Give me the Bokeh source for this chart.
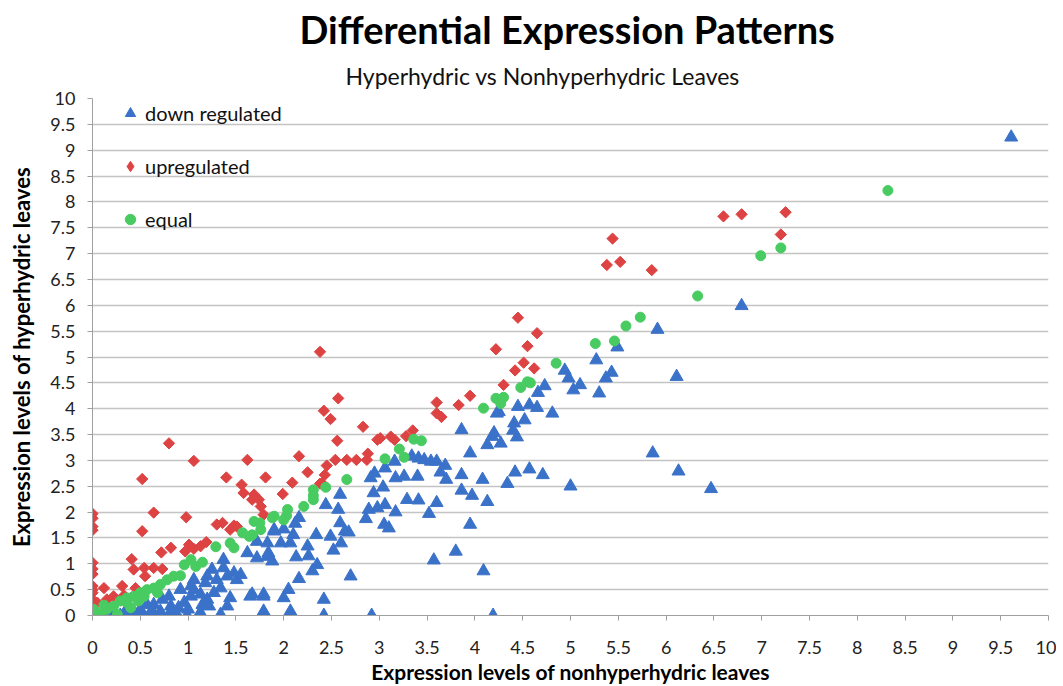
import math
from bokeh.plotting import figure
from bokeh.models import (ColumnDataSource, FixedTicker, NumeralTickFormatter,
                          Range1d, Title)
from bokeh.embed import file_html
from bokeh.resources import INLINE

# ---------------- data ----------------
down_x = [9.61, 6.79, 5.91, 5.49, 5.27, 4.94, 4.98, 5.10, 5.03, 5.37, 5.43, 5.30, 6.11,
          4.73, 4.66, 4.57, 4.65, 4.81, 4.45, 4.25, 4.52, 4.41, 4.40, 4.20, 4.44, 4.18,
          4.13, 4.27, 3.86, 3.95, 5.86, 6.13, 6.47, 3.86, 4.08, 4.42, 4.57, 4.71, 4.34,
          5.00, 3.86, 3.97, 4.13, 3.95, 4.09, 4.19, 4.23, 3.34, 3.41, 3.47, 3.54, 3.60,
          3.69, 3.16, 3.06, 2.95, 2.91, 3.17, 3.26, 3.40, 3.64, 3.70, 3.04, 2.94, 3.29,
          3.41, 3.60, 3.52, 3.06, 2.98, 2.89, 2.86, 3.17, 3.05, 3.10, 3.80, 3.57, 2.92,
          2.42, 2.42, 2.70, 2.59, 2.44, 2.57, 2.59, 2.64, 2.68, 2.49, 2.34, 2.60, 2.52,
          2.25, 2.16, 2.12, 1.90, 2.00, 2.10, 2.07, 1.97, 1.83, 1.72, 1.84, 1.72, 1.88,
          2.13, 2.35, 2.30, 2.16, 2.05, 2.00, 1.79, 1.67, 1.79, 2.07, 2.26,
          0.22, 0.29, 0.36, 0.43, 0.52, 0.61, 0.71, 0.82, 0.73, 0.64, 0.57, 0.80, 0.92,
          0.96, 0.89, 0.99, 1.11, 1.03, 1.06, 1.13, 1.15, 1.22, 1.27, 1.34, 1.30, 1.25,
          1.37, 1.37, 1.48, 1.55, 1.51, 1.41, 1.06, 1.03, 1.18, 1.20, 1.62, 1.83, 1.90,
          1.65, 1.79, 1.41, 1.44, 0.82, 0.71, 0.43, 1.20, 1.34, 1.13, 0.15, 0.35, 0.50,
          0.62, 0.90, 1.00]
down_y = [9.25, 5.99, 5.53, 5.19, 4.94, 4.74, 4.59, 4.46, 4.36, 4.59, 4.70, 4.30, 4.62,
          4.44, 4.31, 4.07, 4.02, 3.91, 4.04, 3.94, 3.78, 3.72, 3.58, 3.53, 3.45, 3.46,
          3.30, 3.33, 3.59, 3.14, 3.14, 2.79, 2.45, 2.72, 2.63, 2.77, 2.83, 2.72, 2.55,
          2.50, 2.42, 2.32, 2.20, 1.76, 0.86, 0.00, 3.91, 3.08, 3.04, 3.01, 2.98, 2.98,
          2.90, 2.98, 2.85, 2.75, 2.66, 2.66, 2.69, 2.69, 2.77, 2.63, 2.48, 2.37, 2.24,
          2.23, 2.18, 1.97, 2.14, 2.08, 2.05, 1.87, 2.00, 1.76, 1.69, 1.24, 1.07, 0.00,
          0.00, 0.31, 0.76, 2.34, 2.14, 2.05, 1.79, 1.63, 1.61, 1.53, 1.56, 1.40, 1.26,
          1.34, 1.89, 1.78, 1.66, 1.67, 1.56, 1.40, 1.40, 1.40, 1.43, 1.21, 1.11, 1.05,
          1.13, 0.98, 0.86, 0.71, 0.50, 0.34, 0.41, 0.41, 0.08, 0.08, 1.15,
          0.00, 0.00, 0.00, 0.04, 0.04, 0.00, 0.00, 0.18, 0.31, 0.21, 0.21, 0.37, 0.50,
          0.25, 0.00, 0.00, 0.00, 0.37, 0.50, 0.41, 0.21, 0.18, 0.44, 0.53, 0.69, 0.89,
          0.92, 1.08, 0.82, 0.79, 0.69, 0.76, 0.69, 0.57, 0.63, 0.76, 1.21, 1.14, 1.63,
          0.37, 0.37, 0.18, 0.34, 0.08, 0.08, 0.08, 0.31, 0.02, 0.05, 0.02, 0.10, 0.12,
          0.10, 0.15, 0.12]

up_x = [0.00, 0.00, 0.00, 0.00, 0.00, 0.00, 0.00, 0.00, 0.00, 0.00, 0.00, 0.00,
        0.64, 0.98, 0.52, 1.30, 1.36, 1.48, 1.51, 1.44, 1.58, 1.69, 1.67, 1.76, 1.79,
        0.72, 0.82, 1.01, 0.97, 1.06, 1.13, 1.19, 0.41, 0.43, 0.54, 0.64, 0.73, 0.55,
        0.45, 0.12, 0.31, 0.33, 0.22, 0.15, 0.05, 0.80, 1.06, 0.52, 1.40, 1.62, 1.56,
        1.81, 2.09, 2.25, 1.99, 1.74, 2.16, 2.38, 2.43, 2.45, 2.54, 2.66, 2.76, 2.87,
        2.88, 2.98, 3.01, 3.12, 3.16, 3.28, 3.35, 3.60, 3.60, 3.65, 3.83, 3.95, 2.57,
        2.42, 2.49, 2.83, 2.56, 2.38, 2.40, 4.45, 4.65, 4.22, 4.55, 4.51, 4.42, 4.62,
        4.30, 5.44, 5.38, 5.52, 5.85, 6.60, 6.79, 7.25, 7.20]
up_y = [1.97, 1.88, 1.72, 1.65, 1.02, 0.90, 0.80, 0.57, 0.50, 0.44, 0.31, 0.20,
        1.99, 1.90, 1.63, 1.76, 1.79, 1.74, 1.72, 1.66, 2.37, 2.34, 2.24, 2.11, 1.95,
        1.22, 1.31, 1.37, 1.24, 1.29, 1.34, 1.42, 1.09, 0.89, 0.92, 0.92, 0.90, 0.76,
        0.53, 0.53, 0.57, 0.39, 0.37, 0.31, 0.25, 3.33, 2.99, 2.64, 2.67, 3.01, 2.53,
        2.67, 2.57, 2.77, 2.35, 2.24, 3.08, 2.55, 2.72, 2.90, 3.01, 3.01, 3.01, 3.01,
        3.13, 3.40, 3.43, 3.46, 3.40, 3.47, 3.58, 4.12, 3.91, 3.84, 4.07, 4.25, 4.20,
        3.96, 3.80, 3.65, 3.38, 5.10, 2.56, 5.76, 5.46, 5.15, 5.21, 4.89, 4.74, 4.78,
        4.46, 7.29, 6.78, 6.84, 6.68, 7.72, 7.76, 7.80, 7.37]

equal_x = [8.32, 6.99, 7.20, 6.33, 5.73, 5.58, 5.46, 5.26, 4.85, 4.55, 4.48, 4.58, 4.22,
           4.30, 4.27, 4.09, 3.36, 3.44, 3.21, 3.26, 3.06, 2.66, 2.44, 2.31, 2.31, 2.31,
           2.21, 2.04, 2.03, 2.00, 1.90, 1.75, 1.76, 1.67, 1.88, 1.69, 1.57, 1.64, 1.44,
           1.48, 1.29, 1.15, 1.08, 1.03, 0.96, 0.92, 0.85, 0.78, 0.71, 0.64, 0.57, 0.50,
           0.43, 0.36, 0.29, 0.22, 0.15, 0.08, 0.01, 0.36, 0.26, 0.48, 0.40, 0.68, 0.54,
           0.05, 0.12]
equal_y = [8.22, 6.96, 7.11, 6.18, 5.77, 5.60, 5.31, 5.26, 4.88, 4.52, 4.41, 4.50, 4.20,
           4.22, 4.10, 4.01, 3.41, 3.38, 3.22, 3.06, 3.03, 2.63, 2.48, 2.43, 2.32, 2.24,
           2.11, 2.05, 1.93, 1.85, 1.92, 1.79, 1.66, 1.56, 1.89, 1.82, 1.60, 1.53, 1.40,
           1.31, 1.33, 1.03, 0.95, 1.08, 0.98, 0.77, 0.76, 0.69, 0.60, 0.53, 0.50, 0.44,
           0.37, 0.34, 0.28, 0.18, 0.12, 0.02, 0.12, 0.25, 0.02, 0.28, 0.15, 0.44, 0.37,
           0.05, 0.20]

series_names = ["down regulated", "upregulated", "equal"]
axis_ticks = [i * 0.5 for i in range(21)]
title_text = "Differential Expression Patterns"
subtitle_text = "Hyperhydric vs Nonhyperhydric Leaves"
x_label = "Expression levels of nonhyperhydric leaves"
y_label = "Expression levels of hyperhydric leaves"

BLUE, RED, GREEN = "#3B72C9", "#DE4343", "#48CC62"

# ---------------- figure ----------------
FONT = "Lato"
p = figure(width=1056, height=686, output_backend="svg", toolbar_location=None,
           x_range=Range1d(0, 10), y_range=Range1d(0, 10),
           min_border_left=92, min_border_right=8, min_border_bottom=70,
           min_border_top=98, title=None)
p.background_fill_color = "white"
p.border_fill_color = "white"
p.outline_line_color = None

sub = Title(text=subtitle_text, align="left", offset=253,
            text_font=FONT, text_font_size="23px", text_font_style="normal",
            text_color="#111111", standoff=17)
p.add_layout(sub, "above")
ttl = Title(text=title_text, align="left", offset=207,
            text_font=FONT, text_font_size="38px", text_font_style="bold",
            text_color="#000000", standoff=0)
p.add_layout(ttl, "above")

src_d = ColumnDataSource(dict(x=down_x, y=down_y))
src_u = ColumnDataSource(dict(x=up_x, y=up_y))
src_e = ColumnDataSource(dict(x=equal_x, y=equal_y))

p.scatter("x", "y", source=src_d, marker="triangle", size=13,
          fill_color=BLUE, line_color=BLUE, legend_label=series_names[0])
p.scatter("x", "y", source=src_u, marker="square", size=8, angle=math.pi / 4,
          fill_color=RED, line_color=RED)
# hidden twin of the red series, used only for its diamond legend glyph
red_key = p.scatter("x", "y", source=src_u, marker="diamond", size=13,
                    fill_color=RED, line_color=RED, legend_label=series_names[1])
red_key.visible = False
p.scatter("x", "y", source=src_e, marker="circle", size=10,
          fill_color=GREEN, line_color=GREEN, legend_label=series_names[2])

# axes
for ax in (p.xaxis[0], p.yaxis[0]):
    ax.ticker = FixedTicker(ticks=axis_ticks)
    ax.formatter = NumeralTickFormatter(format="0.[0]")
    ax.major_label_text_font = FONT
    ax.major_label_text_font_size = "18px"
    ax.major_label_text_color = "#222222"
    ax.axis_line_color = "#A0A0A0"
    ax.major_tick_line_color = "#A0A0A0"
    ax.major_tick_out = 5
    ax.major_tick_in = 0
    ax.minor_tick_line_color = None
    ax.axis_label_text_font = FONT
    ax.axis_label_text_font_style = "bold"
    ax.axis_label_text_color = "#000000"
p.xaxis.axis_label = x_label
p.yaxis.axis_label = y_label
p.xaxis.axis_label_text_font_size = "21px"
p.yaxis.axis_label_text_font_size = "22px"
p.xaxis.major_label_standoff = 20
p.yaxis.major_label_standoff = 12
p.xaxis.axis_label_standoff = 2
p.yaxis.axis_label_standoff = 12

p.xgrid.grid_line_color = None
p.ygrid.ticker = FixedTicker(ticks=axis_ticks)
p.ygrid.grid_line_color = "#C4C4C4"
p.ygrid.grid_line_width = 1.5

# legend
lg = p.legend[0]
lg.location = (25, 383)
lg.padding = 2
lg.margin = 0
lg.spacing = 27
lg.glyph_height = 26
lg.glyph_width = 26
lg.label_height = 20
lg.label_standoff = 2
lg.label_text_font = FONT
lg.label_text_font_size = "20px"
lg.label_text_color = "#111111"
lg.border_line_color = None
lg.background_fill_alpha = 0
lg.inactive_fill_alpha = 0
lg.click_policy = "none"

open("out.html", "w").write(file_html(p, INLINE))
